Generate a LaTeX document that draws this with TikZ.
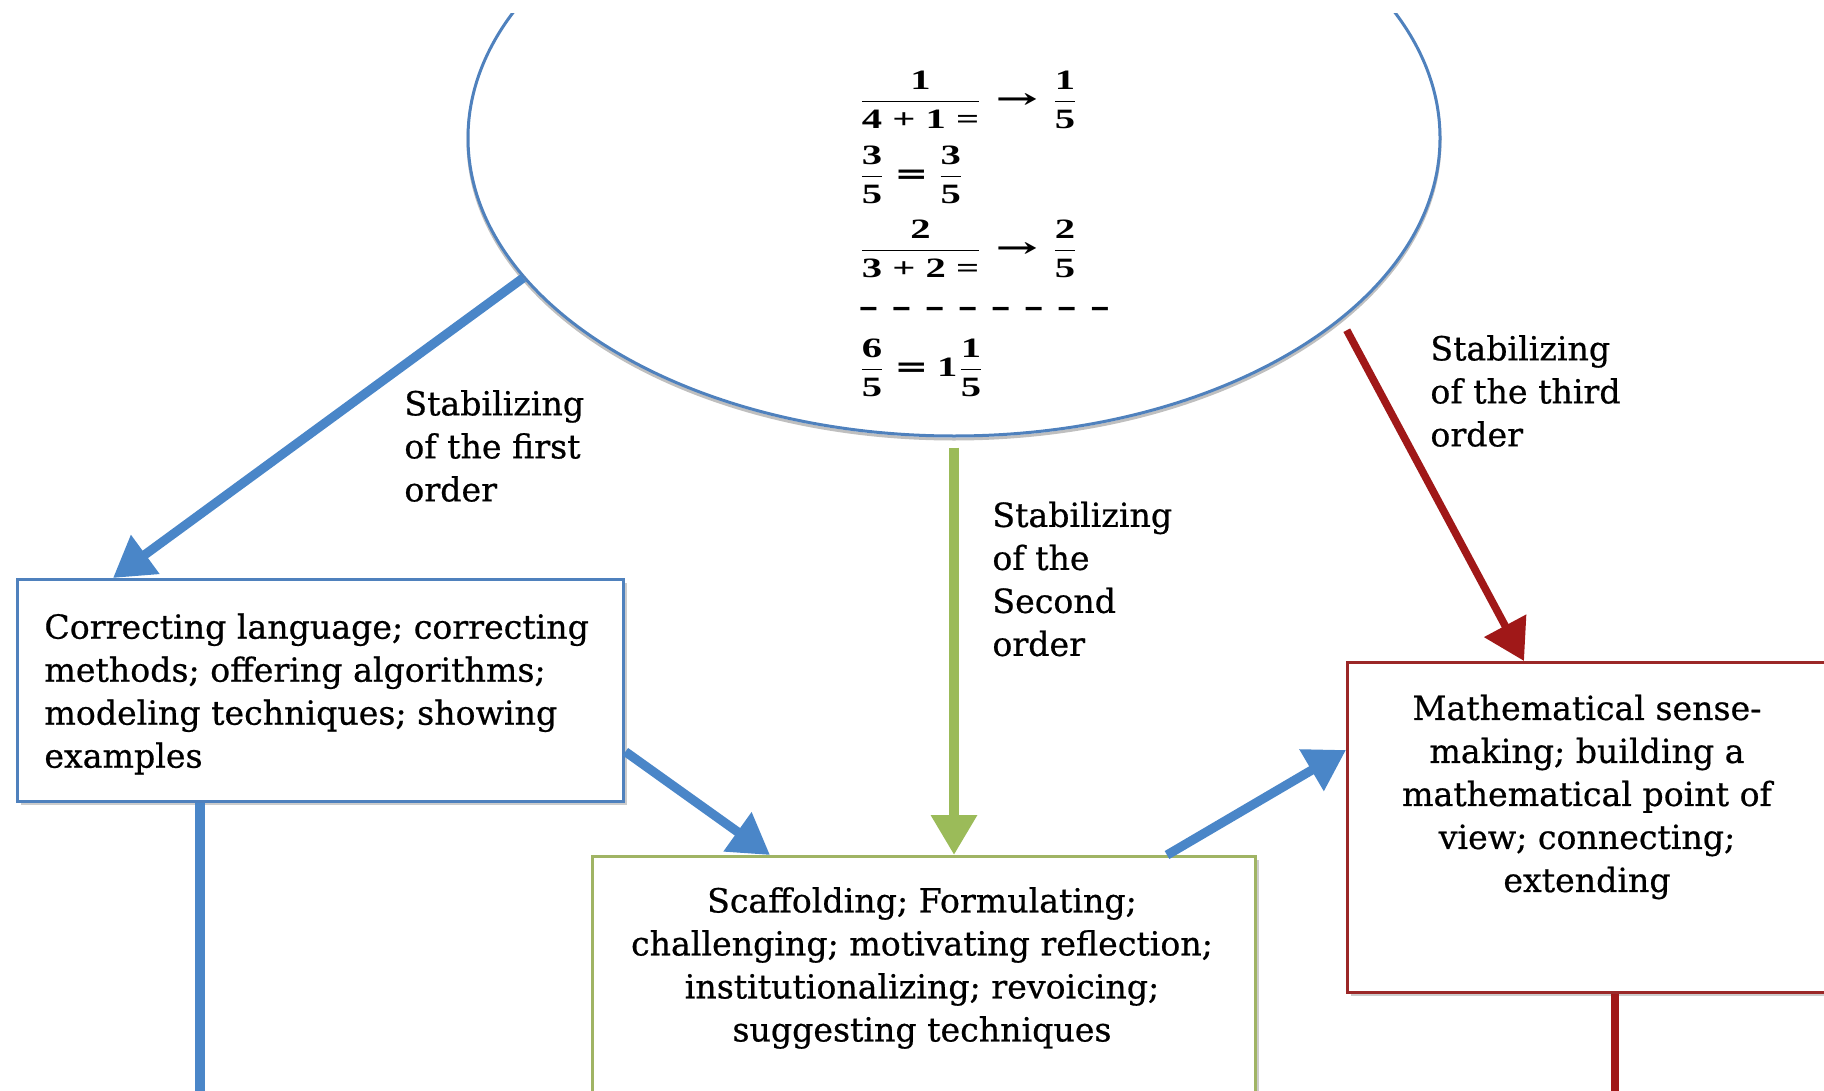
\documentclass[tikz,border=0pt]{standalone}
\usepackage{amsmath}
\usepackage{graphicx}
\usepackage{fontspec}
\setmainfont{DejaVu Serif}
\newfontfamily\txtfont{DejaVu Serif}[FakeBold=0.6]
\newfontfamily\mathtxt{Liberation Serif}
\usetikzlibrary{shapes.geometric,arrows.meta,calc,shadows}
\definecolor{arrowblue}{RGB}{74,134,200}
\definecolor{boxblue}{RGB}{79,129,189}
\definecolor{greenl}{RGB}{155,187,89}
\definecolor{boxgreen}{RGB}{160,180,100}
\definecolor{redl}{RGB}{160,24,24}
\definecolor{boxred}{RGB}{155,40,40}
\newcommand\bt[1]{\mbox{\mathtxt\bfseries #1}}
\newcommand\fr[2]{\dfrac{\bt{#1}}{\bt{#2}}}
\newcommand\mline[1]{\scalebox{1.45}[1]{#1}}
\newcommand\barrow{\hspace{4.5pt}\scalebox{1.25}[1]{\rmfamily\bfseries →}\hspace{4.5pt}}
\newcommand\beq{\hspace{3pt}{\rmfamily\bfseries =}\hspace{3pt}}
\newcommand\dsh{{\rmfamily\bfseries –}}
\tikzset{
  lab/.style={font=\txtfont\fontsize{16.6}{21.5}\selectfont, align=left, inner sep=0pt, anchor=west},
  boxtext/.style={font=\txtfont\fontsize{16.6}{21.5}\selectfont, inner sep=0pt},
  framebox/.style={line width=1.7pt, fill=white, inner sep=0pt, anchor=north west,
    drop shadow={shadow xshift=1.5pt, shadow yshift=-1.5pt, opacity=0.2, fill=black}},
  mathline/.style={anchor=west, inner sep=0pt, font=\mathtxt\fontsize{14}{16}\selectfont},
  bluearrow/.style={draw=arrowblue, line width=4.6pt, -{Triangle[length=20pt,width=23pt]}},
  greenarrow/.style={draw=greenl, line width=4.8pt, -{Triangle[length=20pt,width=22pt]}},
  redarrow/.style={draw=redl, line width=3.8pt, -{Triangle[length=20pt,width=23pt]}},
  blueline/.style={draw=arrowblue, line width=4.6pt},
  redline/.style={draw=redl, line width=3.8pt}
}
\begin{document}
\begin{tikzpicture}[x=0.5pt,y=-0.5pt]
\useasboundingbox (0,0) rectangle (1824,1091);
\clip (0,14) rectangle (1824,1091);
% ellipse with the worked example
\node[draw=boxblue, line width=1.5pt, ellipse, minimum width=486pt, minimum height=298pt, inner sep=0pt,
  drop shadow={shadow xshift=0pt, shadow yshift=-1.5pt, opacity=0.25, fill=none, draw=black, line width=1.5pt}, fill=white] (ell) at (954,138) {};
\node[mathline] (m1) at (858,100) {\mline{$\fr{1}{4 + 1 =}$\barrow$\fr{1}{5}$}};
\node[mathline] (m2) at (858,175) {\mline{$\fr{3}{5}$\beq$\fr{3}{5}$}};
\node[mathline] (m3) at (858,249) {\mline{$\fr{2}{3 + 2 =}$\barrow$\fr{2}{5}$}};
\node[mathline] (m4) at (858,312) {\mline{\dsh\hspace{4.4pt}\dsh\hspace{4.4pt}\dsh\hspace{4.4pt}\dsh\hspace{4.4pt}\dsh\hspace{4.4pt}\dsh\hspace{4.4pt}\dsh\hspace{4.4pt}\dsh}};
\node[mathline] (m5) at (858,368) {\mline{$\fr{6}{5}$\beq\bt{1}$\fr{1}{5}$}};
% boxes
\node[framebox, draw=boxblue, minimum width=303pt, minimum height=111pt] (lbox) at (16,578) {};
\node[framebox, draw=boxgreen, minimum width=331.5pt, minimum height=150pt] (mbox) at (591,855) {};
\node[framebox, draw=boxred, minimum width=250pt, minimum height=165pt] (rbox) at (1346,661) {};
\node[boxtext, align=left, anchor=west] (ltext) at (44,694) {Correcting language; correcting\\methods; offering algorithms;\\modeling techniques; showing\\examples};
\node[boxtext, align=center] (mtext) at (922,968) {Scaffolding; Formulating;\\challenging; motivating reflection;\\institutionalizing; revoicing;\\suggesting techniques};
\node[boxtext, align=center] (rtext) at (1587,797) {Mathematical sense-\\making; building a\\mathematical point of\\view; connecting;\\extending};
% labels
\node[lab] (l1) at (404,446) {Stabilizing\\of the first\\order};
\node[lab] (l2) at (992,579) {Stabilizing\\of the\\Second\\order};
\node[lab] (l3) at (1430,391) {Stabilizing\\of the third\\order};
% connectors
\draw[bluearrow] (ell.198) -- ([xshift=48.5pt]lbox.north west);
\draw[greenarrow, shorten <=5pt] (ell.south) -- (ell.south |- mbox.north);
\draw[bluearrow] ([yshift=-30.5pt]lbox.east) -- ([xshift=89.5pt]mbox.north west);
\draw[bluearrow] ([xshift=288pt]mbox.north west) -- ([yshift=-44.5pt]rbox.north west);
\draw[redarrow] ([shift={(5.5pt,-3pt)}]ell.334) -- ([xshift=89pt]rbox.north west);
\coordinate (lend) at (200,1100);
\coordinate (rend) at (1615,1100);
\draw[blueline] ([xshift=92pt]lbox.south west) -- (lend);
\draw[redline] ([xshift=134.5pt]rbox.south west) -- (rend);
\end{tikzpicture}
\end{document}
